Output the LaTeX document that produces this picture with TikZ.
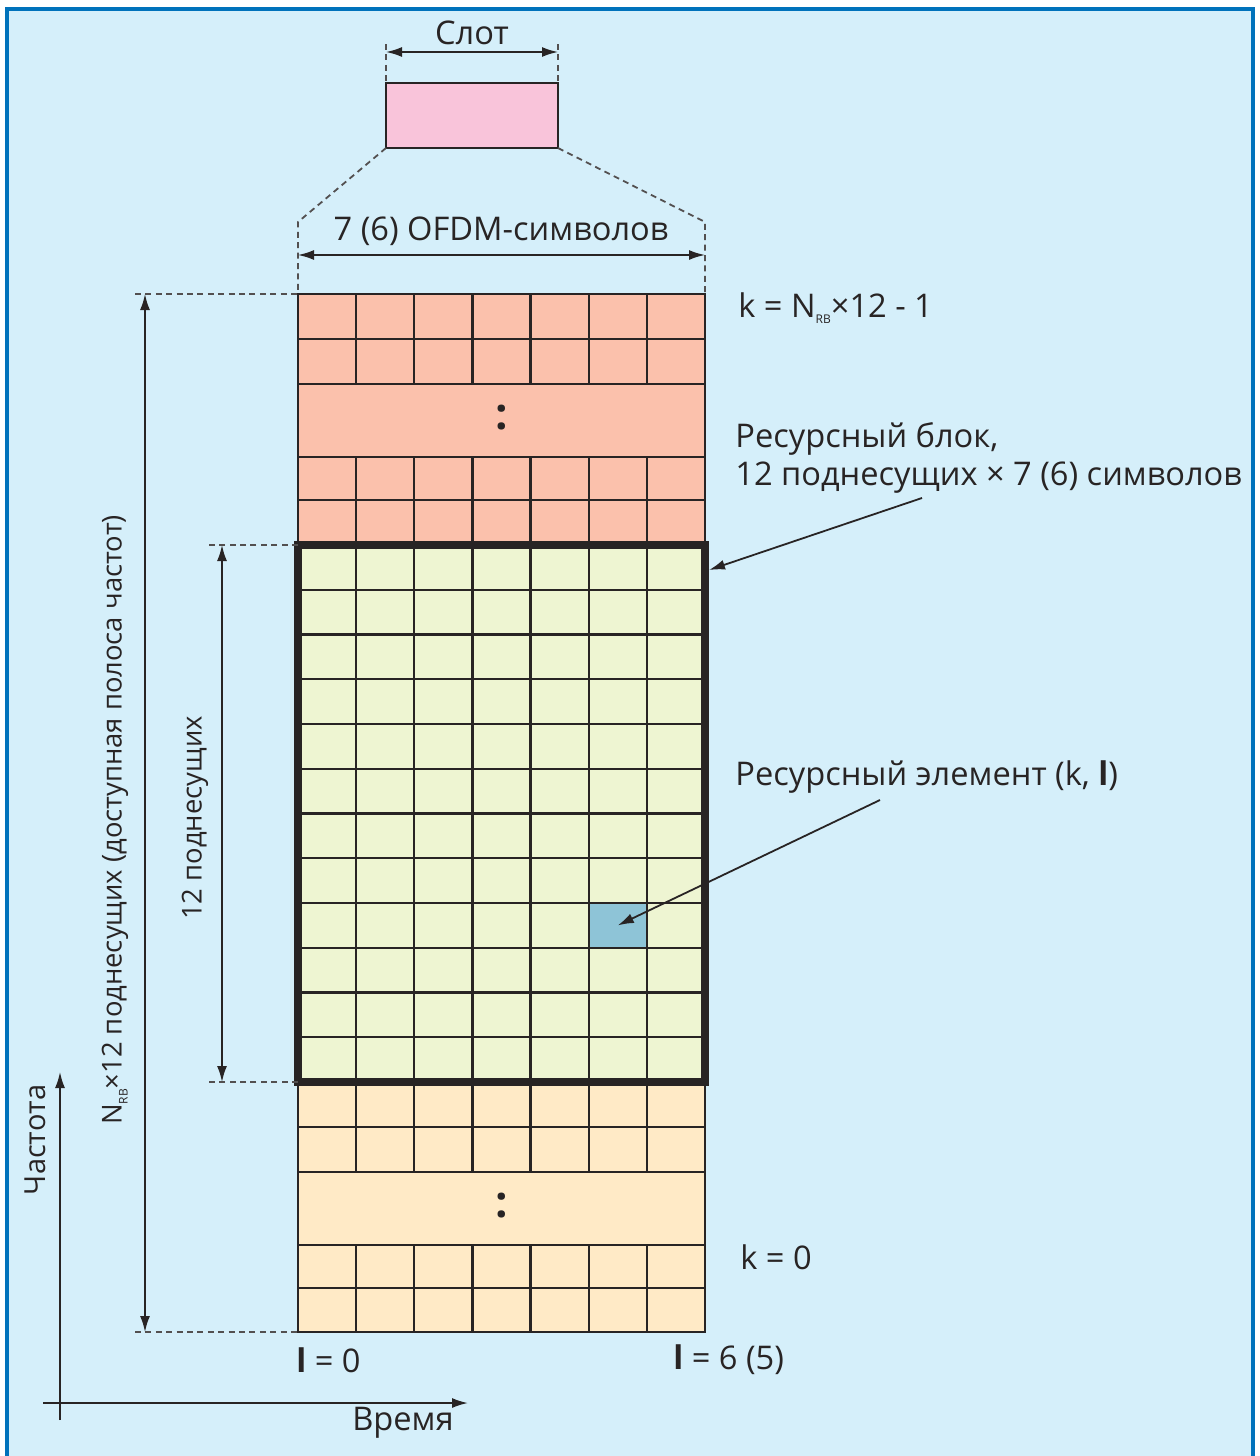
\documentclass[tikz,border=0pt]{standalone}
\usepackage{fontspec}
\setmainfont{Open Sans}
\usetikzlibrary{arrows.meta, positioning, calc}
\definecolor{skyback}{RGB}{213, 239, 250}
\definecolor{frameblue}{RGB}{0, 114, 187}
\definecolor{redcell}{RGB}{251, 193, 172}
\definecolor{greencell}{RGB}{238, 245, 210}
\definecolor{orangecell}{RGB}{255, 234, 198}
\definecolor{bluecell}{RGB}{142, 196, 215}
\definecolor{slotpink}{RGB}{249, 196, 218}
\definecolor{inkgray}{RGB}{40, 36, 36}
\newcommand{\rbsub}{\raisebox{-3pt}{\fontsize{6}{6}\selectfont RB}}

\begin{document}
\begin{tikzpicture}[
  x=0.5pt, y=-0.5pt,
  gridline/.style={draw=inkgray, line width=1.1pt},
  guide/.style={draw=inkgray!80, line width=0.9pt, dash pattern=on 3pt off 2.2pt},
  dim/.style={{Latex[length=8pt,width=5pt]}-{Latex[length=8pt,width=5pt]}, line width=0.9pt, draw=inkgray},
  pointer/.style={-{Latex[length=8pt,width=5pt]}, line width=0.9pt, draw=inkgray},
  lbl/.style={font=\fontsize{16.3}{19}\selectfont, text=inkgray, inner sep=0pt},
  sidelbl/.style={font=\fontsize{13.7}{16}\selectfont, text=inkgray, inner sep=0pt, rotate=90},
  dots/.style={font=\fontsize{22}{22}\selectfont\bfseries, text=inkgray, inner sep=0pt},
  slotbox/.style={draw=inkgray, line width=1.1pt, fill=slotpink, minimum width=86pt, minimum height=32.5pt, inner sep=0pt, outer sep=0pt}
]
\useasboundingbox (0,0) rectangle (1259,1456);
% background and frame
\fill[white] (0,0) rectangle (1259,1456);
\fill[skyback] (7,9) rectangle (1253,1456);
\draw[frameblue, line width=1.6pt] (7,1456) -- (7,9) -- (1253,9) -- (1253,1456);

% slot
\node[slotbox] (slot) at (472,115.5) {};
\node[lbl] (slotlbl) at (472,33) {Слот};
\coordinate (slotL) at (386,52);
\coordinate (slotR) at (558,52);
\draw[guide] (slotL) ++(0,-8) -- (slot.north west);
\draw[guide] (slotR) ++(0,-8) -- (slot.north east);
\draw[dim] (slotL) -- (slotR);

% upper part (red)
\fill[redcell] (298,294) rectangle (705,545);
\draw[gridline] (298,294) rectangle (705,545);
\foreach \y in {339,384,457,500}
  \draw[gridline] (298,\y) -- (705,\y);
\foreach \i in {1,...,6} {
  \draw[gridline] ({298+58.14*\i},294) -- ({298+58.14*\i},384);
  \draw[gridline] ({298+58.14*\i},457) -- ({298+58.14*\i},545);
}
\node[dots] (dotsup) at (502,418) {:};

% resource block (green)
\fill[greencell] (298,545) rectangle (705,1082);
\fill[bluecell] ({298+58.14*5},{545+44.75*8}) rectangle ({298+58.14*6},{545+44.75*9});
\foreach \j in {1,...,11}
  \draw[gridline] (298,{545+44.75*\j}) -- (705,{545+44.75*\j});
\foreach \i in {1,...,6}
  \draw[gridline] ({298+58.14*\i},545) -- ({298+58.14*\i},1082);
\node[minimum width=203.5pt, minimum height=268.5pt, inner sep=0pt, outer sep=0pt] (rb) at (501.5,813.5) {};
\node[inner sep=0pt, minimum width=29pt, minimum height=22pt] (re) at ({298+58.14*5.5},{545+44.75*8.5}) {};

% lower part (orange)
\fill[orangecell] (298,1082) rectangle (705,1332);
\draw[gridline] (298,1082) rectangle (705,1332);
\foreach \y in {1127,1172,1245,1288}
  \draw[gridline] (298,\y) -- (705,\y);
\foreach \i in {1,...,6} {
  \draw[gridline] ({298+58.14*\i},1082) -- ({298+58.14*\i},1172);
  \draw[gridline] ({298+58.14*\i},1245) -- ({298+58.14*\i},1332);
}
\node[dots] (dotslow) at (502,1206) {:};
\draw[draw=inkgray, line width=4pt] (rb.north west) rectangle (rb.south east);

% OFDM symbols
\coordinate (symL) at (298,255);
\coordinate (symR) at (705,255);
\draw[guide] (slot.south west) -- (298,222) -- (298,294);
\draw[guide] (slot.south east) -- (705,222) -- (705,294);
\draw[dim] (symL) -- (symR);
\node[lbl] (symlbl) at (501,231) {7 (6) OFDM-символов};

% bandwidth dimension
\coordinate (bwT) at (145,294);
\coordinate (bwB) at (145,1332);
\draw[guide] (135,294) -- (298,294);
\draw[guide] (135,1332) -- (298,1332);
\draw[dim] (bwT) -- (bwB);
\node[sidelbl] (bwlbl) at (115,820) {N\rbsub×12 поднесущих (доступная полоса частот)};

% 12 subcarriers dimension
\coordinate (scT) at (222,545);
\coordinate (scB) at (222,1082);
\draw[guide] (rb.north west) -- ++(-93,0);
\draw[guide] (rb.south west) -- ++(-93,0);
\draw[dim] (scT) -- (scB);
\node[sidelbl] (sclbl) at (195,818) {12 поднесущих};

% labels on the right
\node[lbl, anchor=west] (ktop) at (738,308) {k = N\rbsub×12 - 1};
\node[lbl, anchor=north west, align=left] (rblbl) at (735,422) {Ресурсный блок,\\12 поднесущих × 7 (6) символов};
\coordinate (rbtail) at (922,498);
\draw[pointer] (rbtail) -- (709,570);
\node[lbl, anchor=west] (relbl) at (735,777) {Ресурсный элемент (k, \textbf{l})};
\coordinate (retail) at (880,800);
\draw[pointer] (retail) -- (re.center);
\node[lbl, anchor=west] (kzero) at (740,1257) {k = 0};
\node[lbl, anchor=west] (lzero) at (296,1360) {\textbf{l} = 0};
\node[lbl, anchor=west] (lsix) at (673,1360) {\textbf{l} = 6 (5)};

% axes
\coordinate (origin) at (60,1403);
\draw[pointer] (43,1403) -- (468,1403);
\draw[pointer] (60,1420) -- (60,1072);
\node[sidelbl, font=\fontsize{14.5}{17}\selectfont] (freq) at (35,1140) {Частота};
\node[lbl] (time) at (403,1423) {Время};
\end{tikzpicture}
\end{document}
